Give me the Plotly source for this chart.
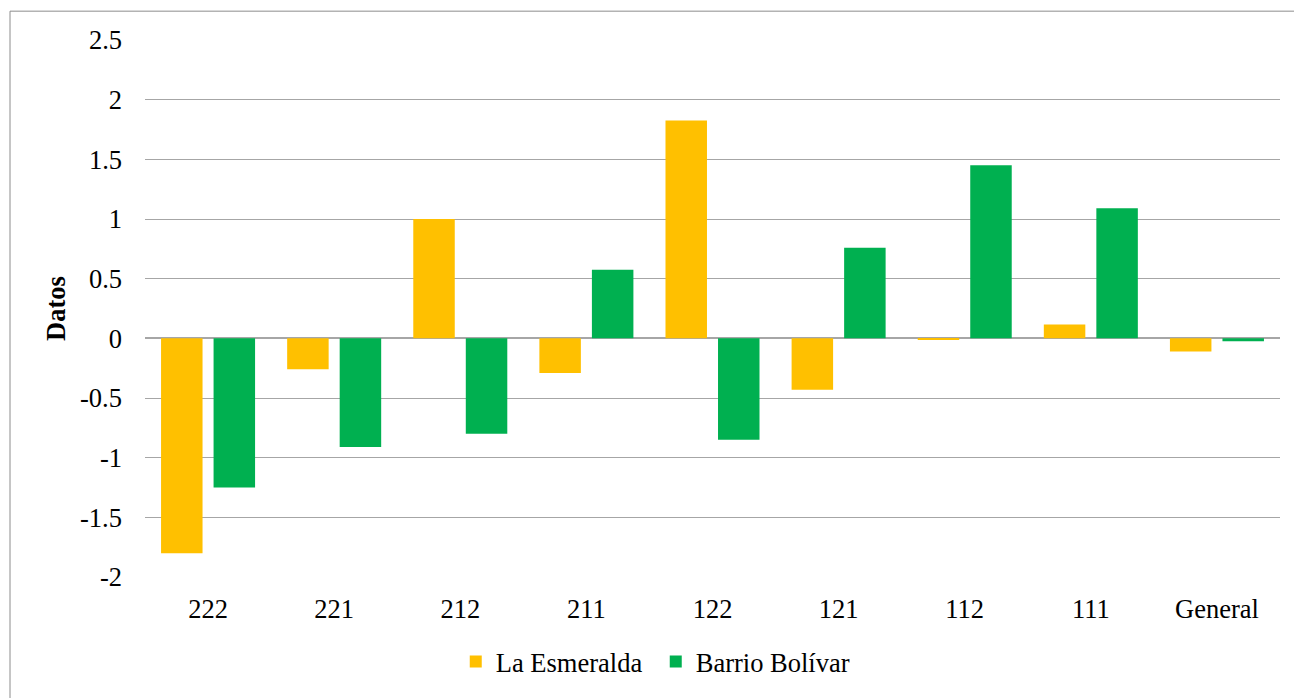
import plotly.graph_objects as go

categories = ["222", "221", "212", "211", "122", "121", "112", "111", "General"]
la_esmeralda = [-1.80, -0.26, 1.00, -0.29, 1.825, -0.43, -0.01, 0.115, -0.11]
barrio_bolivar = [-1.25, -0.91, -0.80, 0.575, -0.85, 0.76, 1.45, 1.09, -0.025]
y_ticks = [-2, -1.5, -1, -0.5, 0, 0.5, 1, 1.5, 2, 2.5]

FONT = "Liberation Serif"
FS = 26.5

W, H = 1294, 698
L, T, R, B = 145, 40, 14, 118
PW = W - L - R
PH = H - T - B

fig = go.Figure()
fig.add_trace(go.Bar(x=categories, y=la_esmeralda, name="La Esmeralda",
                     marker=dict(color="#FFC000", line=dict(width=0))))
fig.add_trace(go.Bar(x=categories, y=barrio_bolivar, name="Barrio Bolívar",
                     marker=dict(color="#00B050", line=dict(width=0))))

fig.update_layout(
    width=W, height=H,
    margin=dict(l=L, r=R, t=T, b=B),
    paper_bgcolor="white", plot_bgcolor="white",
    barmode="group", bargap=0.167, bargroupgap=0.21,
    font=dict(family=FONT, size=FS, color="#000000"),
    legend=dict(orientation="h", x=0.45, xanchor="center", y=-0.158, yanchor="middle",
                font=dict(family=FONT, size=FS), itemwidth=30, traceorder="normal",
                entrywidth=155, entrywidthmode="pixels"),
    xaxis=dict(showgrid=False, showline=False, zeroline=False, ticks="",
               tickfont=dict(family=FONT, size=FS), ticklabelstandoff=13),
    yaxis=dict(range=[-2, 2.5], tickvals=y_ticks, ticktext=[("%g" % v) for v in y_ticks],
               showgrid=True, gridcolor="#A6A6A6", gridwidth=1,
               zeroline=True, zerolinecolor="#A6A6A6", zerolinewidth=1.5,
               showline=False, ticks="", ticklabelstandoff=22,
               tickfont=dict(family=FONT, size=FS),
               title=dict(text="<b>Datos</b>", font=dict(family=FONT, size=FS), standoff=6)),
    shapes=[dict(type="rect", xref="paper", yref="paper",
                 x0=(10 - L) / PW, x1=1.05, y0=-0.3, y1=(PH + 29) / PH,
                 line=dict(color="#8C8C8C", width=1), fillcolor="rgba(0,0,0,0)", layer="below")],
)

fig.write_html("out.html",
               config={"displayModeBar": False},
               post_script="document.body.style.margin='0';document.body.style.overflow='hidden';")
